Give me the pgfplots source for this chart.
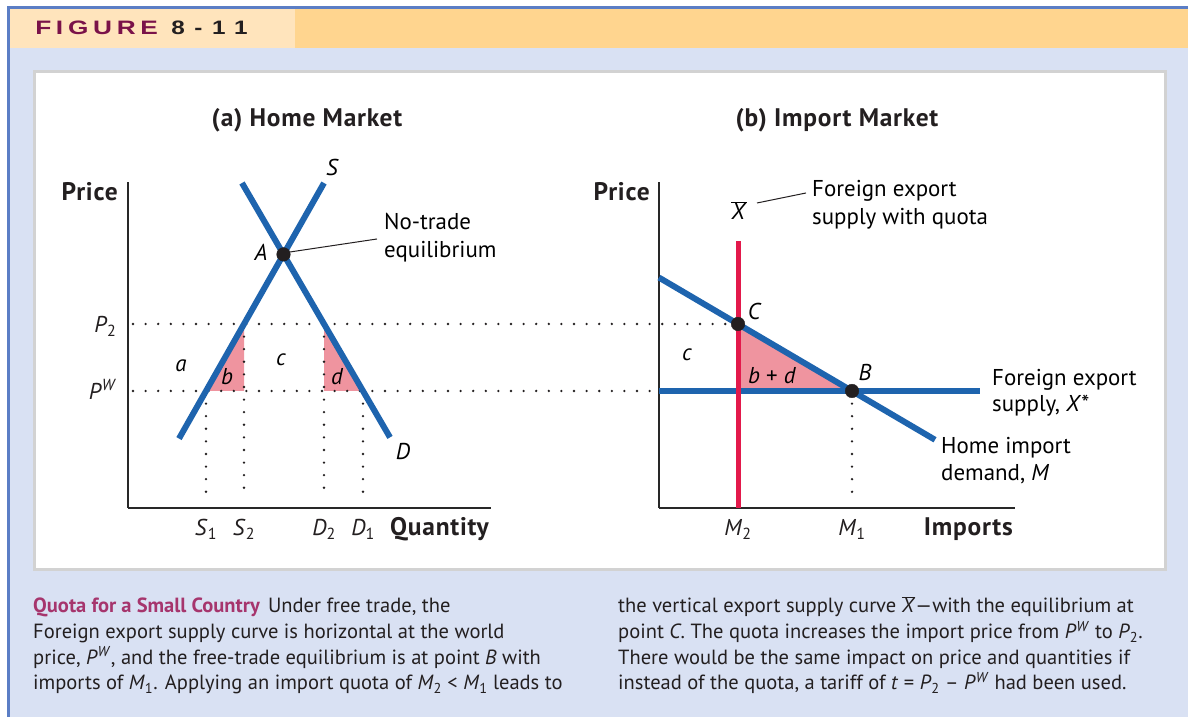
\documentclass[border=0pt]{standalone}
\usepackage{fontspec}
\setmainfont{PT Sans}
\newfontfamily\figfont[LetterSpace=18]{Liberation Sans Bold}
\newfontfamily\numfont[LetterSpace=40]{Liberation Sans Bold}
\usepackage{pgfplots}
\pgfplotsset{compat=1.18}
\definecolor{frameblue}{RGB}{91,126,197}
\definecolor{bgblue}{RGB}{217,225,243}
\definecolor{hdrlight}{RGB}{255,228,188}
\definecolor{hdrdark}{RGB}{255,213,143}
\definecolor{panelgray}{RGB}{210,210,210}
\definecolor{curveblue}{RGB}{30,100,174}
\definecolor{quotared}{RGB}{227,25,75}
\definecolor{pinkfill}{RGB}{239,148,159}
\definecolor{figmag}{RGB}{122,18,73}
\definecolor{capmag}{RGB}{166,53,109}
\definecolor{axisgray}{RGB}{40,40,40}
\definecolor{txt}{RGB}{35,31,32}
\newcommand\lab{\fontsize{23}{26}\selectfont}
\newcommand\captxt{\fontsize{20.6}{25}\selectfont}
\newcommand\ttl{\fontsize{25.5}{28}\selectfont\bfseries\addfontfeature{LetterSpace=3}}
\newcommand\xbar{$\overline{\mbox{\textit{X}}}$}
\tikzset{dots/.style={line width=2.6bp, line cap=round, dash pattern=on 0bp off 12.6bp, draw=txt},
  curve/.style={line width=6bp, draw=curveblue},
  dot/.style={only marks, mark=*, mark size=6.8bp, mark options={fill=txt, draw=txt}}}
\pgfplotsset{econ/.style={scale only axis, clip=false, height=326bp, ymin=0, ymax=326,
  axis x line*=bottom, axis y line*=left,
  axis line style={line width=1.5bp, draw=axisgray},
  major tick length=0pt,
  tick label style={font=\lab, text=txt},
  xticklabel style={anchor=base, yshift=-28bp},
  yticklabel style={anchor=base east, xshift=-8bp, yshift=-9bp},
  every node/.append style={text=txt}}}
\begin{document}
\begin{tikzpicture}[x=1bp,y=1bp]
\useasboundingbox (0,0) rectangle (1188,717);
\fill[white] (0,0) rectangle (1188,717);
\fill[bgblue] (10,0) rectangle (1188,708);
\fill[hdrlight] (10,669) rectangle (295,708);
\fill[hdrdark] (295,669) rectangle (1188,708);
\fill[frameblue] (7,0) rectangle (10,711);
\fill[frameblue] (7,708) rectangle (1188,711);
\filldraw[fill=white, draw=panelgray, line width=3bp] (34.5,147.5) rectangle (1165.5,645.5);
\node[anchor=base west, inner sep=0, xscale=1.35] at (35,682) {\fontsize{19.5}{20}\figfont\color{figmag}FIGURE};
\node[anchor=base west, inner sep=0, xscale=1.25] at (171,682) {\fontsize{19.5}{20}\numfont\color{txt}8-11};

% (a) Home market
\begin{axis}[econ, at={(128,209)}, anchor=south west, width=363bp, xmin=0, xmax=363,
  xtick={78,116,196,235},
  xticklabels={\textit{S}\textsubscript{1},\textit{S}\textsubscript{2},\textit{D}\textsubscript{2},\textit{D}\textsubscript{1}},
  ytick={117,184},
  yticklabels={\textit{P}\textsuperscript{\textit{W}},\textit{P}\textsubscript{2}}]
\addplot[fill=pinkfill, draw=none] coordinates {(78,117) (116,184) (116,117)} --cycle;
\addplot[fill=pinkfill, draw=none] coordinates {(196,184) (196,117) (235,117)} --cycle;
\addplot[dots] coordinates {(5,184) (606,184)};
\addplot[dots] coordinates {(5,117) (531,117)};
\addplot[dots] coordinates {(78,117) (78,8)};
\addplot[dots] coordinates {(116,184) (116,8)};
\addplot[dots] coordinates {(196,184) (196,8)};
\addplot[dots] coordinates {(235,117) (235,8)};
\addplot[curve] coordinates {(51,69.4) (196,325)};
\addplot[curve] coordinates {(114,325) (262,70.6)};
\addplot[line width=1bp, draw=txt] coordinates {(162,256) (249,269)};
\addplot[dot] coordinates {(155.5,253.6)};
\node[font=\lab\itshape] at (133,256) {A};
\node[font=\lab\itshape] at (204,341) {S};
\node[font=\lab\itshape] at (275,56) {D};
\node[font=\lab\itshape] at (53,142) {a};
\node[font=\lab\itshape] at (99,131) {b};
\node[font=\lab\itshape] at (153,148) {c};
\node[font=\lab\itshape] at (209,131) {d};
\node[font=\lab, anchor=base west, inner sep=0] at (256,278) {No-trade};
\node[font=\lab, anchor=base west, inner sep=0] at (256,250) {equilibrium};
\end{axis}

% (b) Import market
\begin{axis}[econ, at={(659,209)}, anchor=south west, width=356bp, xmin=0, xmax=356,
  xtick={79,193},
  xticklabels={\textit{M}\textsubscript{2},\textit{M}\textsubscript{1}},
  ytick=\empty]
\addplot[fill=pinkfill, draw=none] coordinates {(79,184) (79,117) (193,117)} --cycle;
\addplot[dots] coordinates {(193,117) (193,8)};
\addplot[curve] coordinates {(0,117) (321,117)};
\addplot[curve] coordinates {(0,230.4) (276,68.2)};
\addplot[line width=5bp, draw=quotared] coordinates {(79,0) (79,267)};
\addplot[line width=1bp, draw=txt] coordinates {(98,305) (147,315)};
\addplot[dot] coordinates {(79,184) (193,117)};
\node[font=\lab\itshape] at (95,197) {C};
\node[font=\lab\itshape] at (28,153) {c};
\node[font=\lab] at (113,132) {\textit{b} + \textit{d}};
\node[font=\lab\itshape] at (206,136) {B};
\node[font=\lab] at (80,297) {\xbar};
\node[font=\lab, anchor=base west, inner sep=0] at (153,311) {Foreign export};
\node[font=\lab, anchor=base west, inner sep=0] at (153,283) {supply with quota};
\node[font=\lab, anchor=base west, inner sep=0] at (333,122) {Foreign export};
\node[font=\lab, anchor=base west, inner sep=0] at (333,96) {supply, \textit{X}*};
\node[font=\lab, anchor=base west, inner sep=0] at (282,54) {Home import};
\node[font=\lab, anchor=base west, inner sep=0] at (282,27) {demand, \textit{M}};
\end{axis}

% titles and axis names
\node[font=\ttl, text=txt, anchor=base] at (307,590) {(a) Home Market};
\node[font=\ttl, text=txt, anchor=base] at (837,590) {(b) Import Market};
\node[font=\ttl, text=txt, anchor=base east, inner sep=0] at (118,516) {Price};
\node[font=\ttl, text=txt, anchor=base east, inner sep=0] at (650,516) {Price};
\node[font=\ttl, text=txt, anchor=base east, inner sep=0] at (489,181) {Quantity};
\node[font=\ttl, text=txt, anchor=base east, inner sep=0] at (1013,181) {Imports};

% caption
\begin{scope}[every node/.style={anchor=base west, inner sep=0, font=\captxt, text=txt}]
\node at (33,104) {{\bfseries\color{capmag}Quota for a Small Country}\hspace{0.4em}Under free trade, the};
\node at (33,78) {Foreign export supply curve is horizontal at the world};
\node at (33,52.5) {price, \textit{P}\textsuperscript{\textit{W}}, and the free-trade equilibrium is at point \textit{B} with};
\node at (33,27) {imports of \textit{M}\textsubscript{1}. Applying an import quota of \textit{M}\textsubscript{2} < \textit{M}\textsubscript{1} leads to};
\node at (618,104) {the vertical export supply curve \xbar---with the equilibrium at};
\node at (618,78) {point \textit{C}. The quota increases the import price from \textit{P}\textsuperscript{\textit{W}} to \textit{P}\textsubscript{2}.};
\node at (618,52.5) {There would be the same impact on price and quantities if};
\node at (618,27) {instead of the quota, a tariff of \textit{t} = \textit{P}\textsubscript{2} -- \textit{P}\textsuperscript{\textit{W}} had been used.};
\end{scope}
\end{tikzpicture}
\end{document}
